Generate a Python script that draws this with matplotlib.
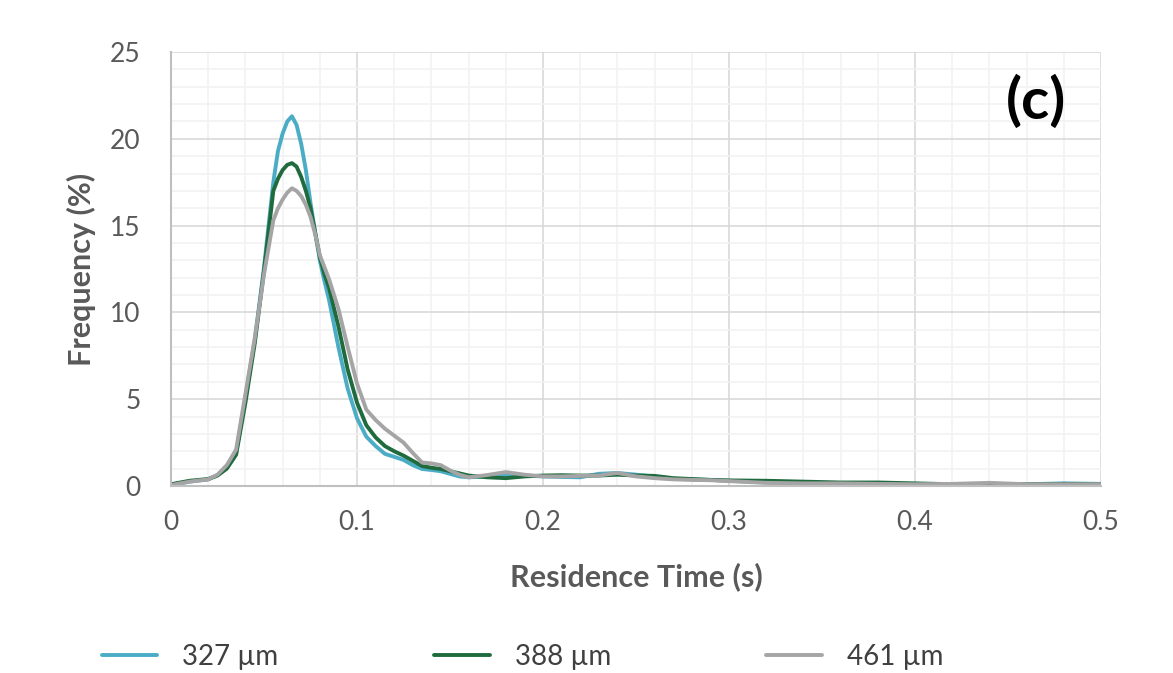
import matplotlib
matplotlib.use('agg')
import matplotlib.pyplot as plt
from matplotlib.ticker import MultipleLocator

plt.rcParams['font.family'] = ['Lato', 'DejaVu Sans']

# residence time (s)
time_s = [0, 0.01, 0.02, 0.025, 0.03, 0.035, 0.04, 0.045, 0.05, 0.055,
          0.0575, 0.06, 0.0625, 0.065, 0.0675, 0.07, 0.0725, 0.075, 0.0775, 0.08,
          0.0825, 0.085, 0.09, 0.095,
          0.1, 0.105, 0.11, 0.115, 0.12, 0.125, 0.13, 0.135, 0.14, 0.145,
          0.15, 0.155, 0.16, 0.17, 0.18, 0.19, 0.2, 0.21, 0.22, 0.23,
          0.24, 0.25, 0.26, 0.27, 0.28, 0.29, 0.3, 0.32, 0.34, 0.36,
          0.38, 0.4, 0.42, 0.44, 0.46, 0.48, 0.5]

freq_327 = [0.05, 0.25, 0.38, 0.63, 1.1, 1.9, 5.1, 8.4, 12.6, 17.5,
            19.3, 20.3, 21.0, 21.3, 20.8, 19.7, 18.2, 16.3, 14.6, 13.0,
            11.8, 10.7, 8.0, 5.6,
            3.9, 2.84, 2.3, 1.85, 1.68, 1.5, 1.2, 0.98, 0.92, 0.85,
            0.7, 0.55, 0.5, 0.54, 0.63, 0.6, 0.55, 0.52, 0.5, 0.7,
            0.75, 0.65, 0.55, 0.42, 0.38, 0.35, 0.3, 0.2, 0.16, 0.15,
            0.12, 0.1, 0.1, 0.1, 0.1, 0.15, 0.12]

freq_388 = [0.1, 0.3, 0.4, 0.6, 1.0, 1.8, 4.8, 8.2, 12.4, 17.0,
            17.7, 18.2, 18.5, 18.6, 18.4, 17.8, 17.0, 16.0, 14.6, 13.2,
            12.2, 11.4, 9.2, 6.7,
            4.8, 3.5, 2.8, 2.3, 2.0, 1.75, 1.45, 1.15, 1.05, 0.98,
            0.85, 0.73, 0.6, 0.5, 0.45, 0.55, 0.6, 0.62, 0.6, 0.6,
            0.65, 0.6, 0.58, 0.45, 0.4, 0.35, 0.32, 0.3, 0.25, 0.2,
            0.2, 0.15, 0.1, 0.08, 0.1, 0.12, 0.1]

freq_461 = [0.05, 0.25, 0.38, 0.65, 1.2, 2.1, 5.3, 8.5, 12.2, 15.3,
            16.0, 16.5, 16.9, 17.15, 17.0, 16.7, 16.2, 15.5, 14.5, 13.3,
            12.6, 11.9, 10.2, 8.0,
            5.9, 4.4, 3.8, 3.3, 2.9, 2.5, 1.9, 1.35, 1.3, 1.2,
            0.9, 0.65, 0.5, 0.63, 0.8, 0.65, 0.55, 0.55, 0.58, 0.6,
            0.75, 0.55, 0.45, 0.38, 0.35, 0.33, 0.28, 0.18, 0.15, 0.15,
            0.12, 0.1, 0.12, 0.18, 0.1, 0.1, 0.1]

series = [("327 µm", freq_327, "#4bacc6"),
          ("388 µm", freq_388, "#1f6b3e"),
          ("461 µm", freq_461, "#a5a5a5")]

fig = plt.figure(figsize=(11.73, 6.73), dpi=100)
ax = fig.add_axes([0.1458, 0.2779, 0.7928, 0.6448])

for label, vals, color in series:
    ax.plot(time_s, vals, color=color, lw=2.8, label=label,
            solid_capstyle='round', solid_joinstyle='round')

ax.set_xlim(0, 0.5)
ax.set_ylim(0, 25)
ax.xaxis.set_minor_locator(MultipleLocator(0.02))
ax.yaxis.set_major_locator(MultipleLocator(5))
ax.yaxis.set_minor_locator(MultipleLocator(1))
ax.set_xticks([0, 0.1, 0.2, 0.3, 0.4, 0.5])
ax.set_xticklabels(["0", "0.1", "0.2", "0.3", "0.4", "0.5"])

ax.grid(which='major', color='#d9d9d9', lw=1.2)
ax.grid(which='minor', color='#f2f2f2', lw=1.2)
ax.set_axisbelow(True)

for side in ['top', 'right']:
    ax.spines[side].set_visible(False)
for side in ['left', 'bottom']:
    ax.spines[side].set_color('#bfbfbf')
    ax.spines[side].set_linewidth(1.5)

ax.tick_params(which='both', length=0, labelsize=19, labelcolor='#595959')
ax.tick_params(axis='x', pad=17)
ax.tick_params(axis='y', pad=22)

ax.set_xlabel("Residence Time (s)", fontsize=22, fontweight='bold',
              color='#595959', labelpad=20)
ax.set_ylabel("Frequency (%)", fontsize=22, fontweight='bold',
              color='#595959', labelpad=10)

ax.text(0.930, 0.885, "(c)", transform=ax.transAxes, fontsize=42,
        fontweight='bold', ha='center', va='center', color='black')

fig.legend(loc='center', bbox_to_anchor=(0.4455, 0.024), ncol=3,
           frameon=False, fontsize=20, handlelength=2.0, handletextpad=0.9,
           columnspacing=5.6, labelcolor='#404040')

fig.savefig("out.png", dpi=100)
